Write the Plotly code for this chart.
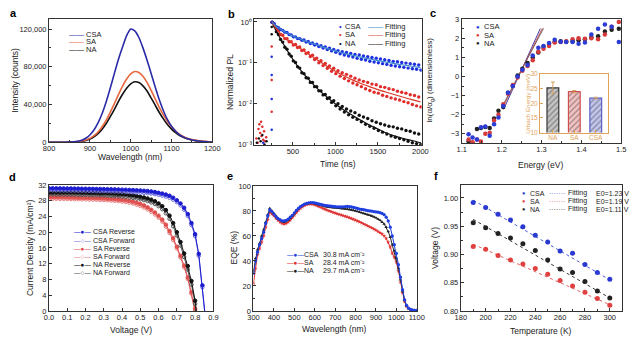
import plotly.graph_objects as go

# ---------------- data ----------------
# (a) steady-state PL
a_wl = [800, 820, 840, 860, 870, 880, 890, 900, 910, 920, 930, 940, 950, 960, 970, 980, 990, 1000,
        1010, 1020, 1030, 1040, 1050, 1060, 1070, 1080, 1090, 1100, 1110, 1120, 1130, 1140, 1150,
        1160, 1170, 1180, 1190, 1200]
a_csa = [0, 50, 150, 600, 1200, 2300, 4300, 7800, 13000, 20500, 30500, 43000, 57500, 73000, 88000,
         101000, 113000, 120000, 118000, 111000, 100000, 87000, 73000, 58500, 45000, 33500, 24000,
         17000, 11800, 8000, 5500, 3700, 2500, 1700, 1100, 700, 450, 300]
a_sa = [0, 50, 120, 400, 750, 1400, 2500, 4200, 7000, 11000, 16500, 23500, 32000, 41000, 50500,
        59500, 67000, 72500, 75000, 74000, 70000, 63500, 55000, 46000, 37000, 29000, 22000, 16500,
        12000, 8500, 6000, 4200, 3000, 2100, 1500, 1000, 700, 500]
a_na = [0, 40, 100, 330, 620, 1150, 2050, 3500, 5800, 9200, 13900, 19900, 27200, 35000, 43300,
        50900, 57300, 62000, 64100, 63300, 59800, 54300, 47000, 39300, 31600, 24800, 18800, 14000,
        10200, 7200, 5100, 3600, 2500, 1800, 1250, 850, 600, 400]

# (b) TRPL
b_t = [255, 280, 305, 330, 355, 380, 405, 430, 455, 480, 505, 530, 555, 580, 605, 630, 655, 680,
       705, 730, 755, 780, 805, 830, 855, 880, 905, 930, 955, 980, 1005, 1030, 1055, 1080, 1105,
       1130, 1155, 1180, 1205, 1230, 1255, 1280, 1305, 1330, 1355, 1380, 1405, 1430, 1455, 1480,
       1505, 1530, 1555, 1580, 1605, 1630, 1655, 1680, 1705, 1730, 1755, 1780, 1805, 1830, 1855,
       1880, 1905, 1930, 1955, 1980, 2005]
b_csa = [0.98, 0.90, 0.76, 0.72, 0.65, 0.62, 0.56, 0.55, 0.49, 0.48, 0.43, 0.43, 0.39, 0.39, 0.355,
         0.36, 0.32, 0.33, 0.295, 0.305, 0.27, 0.285, 0.25, 0.26, 0.23, 0.245, 0.21, 0.228, 0.195,
         0.212, 0.18, 0.198, 0.166, 0.186, 0.155, 0.178, 0.146, 0.168, 0.138, 0.16, 0.128, 0.155,
         0.122, 0.146, 0.117, 0.14, 0.109, 0.134, 0.104, 0.129, 0.1, 0.123, 0.095, 0.118, 0.091,
         0.113, 0.086, 0.108, 0.083, 0.106, 0.08, 0.101, 0.077, 0.098, 0.074, 0.095, 0.071, 0.092,
         0.069, 0.088, 0.066]
b_sa = [0.97, 0.84, 0.66, 0.61, 0.49, 0.47, 0.39, 0.385, 0.325, 0.325, 0.27, 0.28, 0.235, 0.243,
        0.2, 0.207, 0.168, 0.177, 0.142, 0.152, 0.12, 0.13, 0.1, 0.112, 0.085, 0.096, 0.073, 0.083,
        0.062, 0.073, 0.054, 0.064, 0.047, 0.057, 0.041, 0.052, 0.036, 0.047, 0.032, 0.042, 0.029,
        0.038, 0.026, 0.035, 0.023, 0.033, 0.021, 0.03, 0.019, 0.029, 0.018, 0.026, 0.016, 0.025,
        0.015, 0.023, 0.0138, 0.022, 0.013, 0.02, 0.0122, 0.019, 0.0112, 0.018, 0.0105, 0.0165,
        0.0095, 0.0158, 0.0088, 0.0145, 0.0083]
b_na = [0.98, 0.79, 0.57, 0.49, 0.37, 0.32, 0.24, 0.215, 0.163, 0.145, 0.111, 0.101, 0.08, 0.074,
        0.057, 0.054, 0.043, 0.042, 0.033, 0.033, 0.026, 0.026, 0.0205, 0.0205, 0.0163, 0.0167,
        0.0133, 0.014, 0.0107, 0.0117, 0.0088, 0.0099, 0.0074, 0.0085, 0.0062, 0.0074, 0.0053,
        0.0066, 0.0046, 0.006, 0.0041, 0.0052, 0.0036, 0.0047, 0.0031, 0.0043, 0.0028, 0.0038,
        0.0025, 0.0035, 0.0022, 0.0032, 0.002, 0.003, 0.0018, 0.0028, 0.0016, 0.0027, 0.0015,
        0.0025, 0.0014, 0.0024, 0.0013, 0.0022, 0.0012, 0.0021, 0.0011, 0.0019, 0.00105, 0.0018,
        0.001]
b_pre_csa_t = [150, 250, 250, 250, 250]
b_pre_csa = [0.0011, 0.14, 0.05, 0.013, 0.0023]
b_pre_sa_t = [70, 85, 95, 105, 115, 125, 130, 140, 150, 160, 170, 185, 250, 250, 250]
b_pre_sa = [0.0014, 0.0011, 0.0024, 0.0031, 0.0019, 0.0036, 0.0016, 0.0027, 0.0013, 0.0021,
            0.0012, 0.0015, 0.25, 0.038, 0.0063]
b_pre_na_t = [75, 100, 120, 140, 165, 190, 250, 250]
b_pre_na = [0.0011, 0.0014, 0.0012, 0.0017, 0.001, 0.0012, 0.5, 0.75]
b_fit_t = [255, 300, 350, 400, 450, 500, 600, 700, 800, 900, 1000, 1100, 1200, 1300, 1400, 1500,
           1600, 1700, 1800, 1900, 2000]
b_fit_csa = [1.0, 0.78, 0.67, 0.58, 0.51, 0.45, 0.37, 0.31, 0.265, 0.225, 0.195, 0.17, 0.152,
             0.137, 0.124, 0.113, 0.103, 0.095, 0.088, 0.082, 0.076]
b_fit_sa = [1.0, 0.7, 0.52, 0.41, 0.345, 0.29, 0.215, 0.155, 0.112, 0.082, 0.062, 0.048, 0.038,
            0.031, 0.026, 0.022, 0.019, 0.0165, 0.0143, 0.0125, 0.011]
b_fit_na = [1.0, 0.62, 0.4, 0.26, 0.175, 0.12, 0.062, 0.036, 0.022, 0.0145, 0.0098, 0.007, 0.0052,
            0.0039, 0.003, 0.0024, 0.0019, 0.0016, 0.0014, 0.00125, 0.0011]
b_ticktext = ["10⁻³", "10⁻²", "10⁻¹", "10⁰"]

# (c) Urbach
c_e = [1.117, 1.127, 1.138, 1.148, 1.159, 1.170, 1.181, 1.192, 1.204, 1.216, 1.228, 1.240, 1.252,
       1.265, 1.278, 1.292, 1.305, 1.319, 1.333, 1.348, 1.362, 1.378, 1.393, 1.409, 1.425, 1.442,
       1.459, 1.476, 1.494]
c_csa = [-3.02, -3.2, -3.3, -2.66, -2.62, -3.1, -2.5, -2.15, -1.55, -0.85, -0.5, 0.0, 0.35, 0.6,
         1.1, 1.5, 1.6, 1.75, 1.92, 1.82, 1.8, 1.8, 1.72, 1.78, 2.2, 2.5, 2.72, 2.6, 1.8]
c_sa = [-3.3, -3.45, -3.3, -3.4, -3.0, -2.95, -2.3, -2.0, -1.45, -0.9, -0.45, -0.05, 0.3, 0.55,
        0.85, 1.3, 1.45, 1.6, 1.78, 1.8, 1.85, 1.95, 2.0, 1.98, 2.0, 1.95, 2.2, 2.6, 2.85]
c_na = [-3.4, -3.5, -2.75, -2.7, -2.65, -2.7, -2.2, -1.8, -1.6, -0.85, -0.5, 0.05, 0.4, 0.7, 1.0,
        1.25, 1.55, 1.7, 1.8, 1.85, 1.82, 1.85, 1.9, 1.95, 2.05, 2.1, 2.35, 2.45, 2.5]
c_fit_e_csa = [1.205, 1.297]
c_fit_csa = [-1.72, 2.51]
c_fit_e_sa = [1.205, 1.302]
c_fit_sa = [-1.53, 2.52]
c_fit_e_na = [1.205, 1.305]
c_fit_na = [-1.43, 2.52]
c_inset_cat = ["NA", "SA", "CSA"]
c_inset_eu = [25.3, 24.0, 21.8]
c_inset_err = [2.0, 0.4, 0.3]

# (d) J-V
d_v = [0.00, 0.02, 0.04, 0.06, 0.08, 0.10, 0.12, 0.14, 0.16, 0.18, 0.20, 0.22, 0.24, 0.26, 0.28,
       0.30, 0.32, 0.34, 0.36, 0.38, 0.40, 0.42, 0.44, 0.46, 0.48, 0.50, 0.52, 0.54, 0.56, 0.58,
       0.60, 0.62, 0.64, 0.66, 0.68, 0.70, 0.72, 0.74, 0.76, 0.78, 0.80, 0.82, 0.84, 0.86, 0.88]
d_csa_rev = [31.15, 31.15, 31.14, 31.13, 31.12, 31.10, 31.10, 31.08, 31.07, 31.05, 31.04, 31.02,
             31.00, 30.98, 30.96, 30.94, 30.92, 30.90, 30.87, 30.84, 30.80, 30.77, 30.73, 30.69,
             30.64, 30.58, 30.52, 30.44, 30.35, 30.20, 30.00, 29.80, 29.55, 29.25, 28.75, 28.10,
             27.30, 26.20, 24.60, 22.30, 19.50, 14.50, 6.50, -2.5, -12.0]
d_csa_fwd = [30.65, 30.65, 30.64, 30.63, 30.62, 30.60, 30.59, 30.58, 30.56, 30.55, 30.53, 30.51,
             30.49, 30.47, 30.45, 30.43, 30.40, 30.38, 30.35, 30.32, 30.28, 30.24, 30.20, 30.15,
             30.10, 30.04, 29.97, 29.89, 29.80, 29.66, 29.48, 29.28, 29.03, 28.72, 28.25, 27.62,
             26.80, 25.70, 24.10, 21.80, 19.00, 14.00, 6.00, -3.0, -12.5]
d_sa_rev = [28.95, 28.94, 28.93, 28.92, 28.90, 28.88, 28.86, 28.84, 28.82, 28.80, 28.77, 28.74,
            28.71, 28.68, 28.64, 28.60, 28.55, 28.50, 28.44, 28.36, 28.26, 28.14, 27.98, 27.78,
            27.52, 27.20, 26.80, 26.30, 25.70, 25.00, 24.20, 23.20, 21.90, 20.30, 18.50, 16.30,
            14.00, 11.50, 8.50, 4.80, 0.60, -4.0, -10.0, -17.0, -25.0]
d_sa_fwd = [28.50, 28.49, 28.48, 28.47, 28.45, 28.43, 28.41, 28.39, 28.37, 28.35, 28.32, 28.29,
            28.26, 28.23, 28.19, 28.15, 28.10, 28.05, 27.98, 27.90, 27.80, 27.67, 27.50, 27.28,
            27.00, 26.67, 26.27, 25.78, 25.18, 24.50, 23.70, 22.70, 21.40, 19.80, 18.00, 15.90,
            13.60, 11.10, 8.10, 4.40, 0.20, -4.5, -10.5, -17.5, -25.5]
d_na_rev = [30.10, 30.10, 30.09, 30.08, 30.07, 30.06, 30.05, 30.04, 30.02, 30.00, 29.98, 29.96,
            29.94, 29.92, 29.90, 29.87, 29.84, 29.80, 29.76, 29.70, 29.64, 29.56, 29.46, 29.34,
            29.18, 29.00, 28.80, 28.55, 28.25, 27.85, 27.30, 26.60, 25.60, 24.20, 22.30, 20.00,
            17.50, 14.60, 11.40, 7.60, 2.60, -3.0, -10.0, -20.0, -30.0]
d_na_fwd = [29.55, 29.55, 29.54, 29.53, 29.52, 29.51, 29.50, 29.48, 29.46, 29.44, 29.42, 29.40,
            29.38, 29.35, 29.32, 29.29, 29.25, 29.21, 29.16, 29.10, 29.03, 28.94, 28.83, 28.70,
            28.55, 28.37, 28.15, 27.88, 27.55, 27.15, 26.60, 25.85, 24.80, 23.40, 21.50, 19.20,
            16.60, 13.70, 10.50, 6.70, 1.80, -4.0, -11.0, -21.0, -31.0]

# (e) EQE
e_wl = [300, 310, 320, 330, 340, 350, 360, 370, 380, 390, 400, 410, 420, 430, 440, 450, 460, 470,
        480, 490, 500, 510, 520, 530, 540, 550, 560, 570, 580, 590, 600, 610, 620, 630, 640, 650,
        660, 670, 680, 690, 700, 710, 720, 730, 740, 750, 760, 770, 780, 790, 800, 810, 820, 830,
        840, 850, 860, 870, 880, 890, 900, 910, 920, 930, 940, 950, 960, 970, 980, 990, 1000, 1010,
        1020, 1030, 1040, 1050, 1060, 1070, 1080, 1090, 1100]
e_csa = [30, 40, 47, 53, 58, 63, 70, 76, 81, 79.5, 77.5, 75.5, 74, 73, 72, 72, 72.5, 73.5, 75, 76.5,
         78.5, 80.5, 82, 83.5, 84.5, 85.5, 86, 86.5, 86.7, 86.7, 86.5, 86, 85.6, 85.2, 84.8, 84.5,
         84.2, 84, 83.8, 83.6, 83.5, 83.3, 83.2, 83.2, 83.3, 83.5, 83.6, 83.5, 83.2, 82.8, 82.5, 82,
         81.5, 81.2, 81, 80.6, 80.2, 80, 79.8, 79.5, 79.2, 79, 78.6, 78, 77, 75, 72, 67, 60, 53, 46,
         37, 27, 17, 9, 4.5, 2.2, 1.2, 0.7, 0.5, 0.4]
e_sa = [22, 34, 45, 50, 55, 60, 67, 73, 79, 77.5, 76, 74, 72.5, 71, 70, 69.5, 70, 71, 72.5, 74.5,
        76.5, 78.5, 80.5, 82, 83.3, 84.3, 85, 85.4, 85.5, 85.3, 84.8, 84.2, 83.5, 82.8, 82, 81.3,
        80.6, 80, 79.4, 78.8, 78.2, 77.7, 77.2, 76.7, 76.2, 75.7, 75.2, 74.6, 74, 73.3, 72.6, 71.9,
        71.2, 70.4, 69.6, 68.8, 68, 67.2, 66.4, 65.5, 64.6, 63.6, 62.5, 61.5, 60, 58, 55, 51, 46,
        43, 39, 32, 23, 14.5, 7.5, 3.5, 1.8, 1, 0.6, 0.4, 0.3]
e_na = [32, 42, 49, 54, 60, 65, 71, 77, 82, 80, 78, 76, 74, 72.5, 71.5, 71, 71.5, 72.5, 74, 76, 78,
        80, 82, 83.5, 84.5, 85.3, 85.8, 86, 86.2, 86.2, 86, 85.5, 85, 84.5, 84, 83.6, 83.2, 83,
        82.8, 82.6, 82.5, 82.3, 82.2, 82, 81.9, 81.7, 81.5, 81.2, 80.8, 80.4, 80, 79.5, 79, 78.5,
        78, 77.5, 77, 76.5, 76, 75.3, 74.5, 73.5, 72.5, 71, 69.5, 67, 63.5, 59, 53, 48, 42, 34, 25,
        16, 8.5, 4, 2, 1.1, 0.6, 0.4, 0.3]
e_jsc = ["30.8", "28.4", "29.7"]

# (f) Voc vs T
f_t = [190, 200, 210, 220, 230, 240, 250, 260, 270, 280, 290, 300]
f_csa = [0.992, 0.983, 0.971, 0.961, 0.949, 0.934, 0.922, 0.906, 0.902, 0.882, 0.868, 0.856]
f_sa = [0.914, 0.909, 0.898, 0.890, 0.883, 0.875, 0.865, 0.854, 0.844, 0.833, 0.822, 0.810]
f_na = [0.956, 0.947, 0.937, 0.929, 0.919, 0.907, 0.890, 0.874, 0.868, 0.852, 0.835, 0.823]
f_fit_t = [190, 300]
f_fit_csa = [0.996, 0.855]
f_fit_sa = [0.918, 0.811]
f_fit_na = [0.962, 0.823]
f_e0 = ["1.23", "1.19", "1.11"]

# ---------------- layout helpers ----------------
W, H = 639, 350
FONT = "Arial, Liberation Sans, sans-serif"


def X(p):
    return p / W


def Y(p):
    return 1 - p / H


def axis(dom, rng, anchor, xa=False, **kw):
    d = dict(domain=dom, range=rng, anchor=anchor, showline=True, linecolor="#333", linewidth=1,
             mirror=True, ticks="inside", ticklen=3, tickwidth=1, tickcolor="#333",
             showgrid=False, zeroline=False, tickfont=dict(size=7.5, color="#222", family=FONT))
    if xa:
        d["ticklabelstandoff"] = -1
    d.update(kw)
    return d


fig = go.Figure()


def sc(x, y, xa, ya, **kw):
    fig.add_trace(go.Scatter(x=x, y=y, xaxis=xa, yaxis=ya, showlegend=False, hoverinfo="skip", **kw))


# (a)
for yv, col in [(a_na, "#111111"), (a_sa, "#e8673f"), (a_csa, "#2b2ba8")]:
    sc(a_wl, yv, "x", "y", mode="lines", line=dict(color=col, width=1.6, shape="spline", smoothing=0.6))

# (b)
for t, yv, col in [(b_pre_sa_t, b_pre_sa, "#e02b2b"), (b_pre_na_t, b_pre_na, "#111111"),
                   (b_pre_csa_t, b_pre_csa, "#1f2fe0")]:
    sc(t, yv, "x2", "y2", mode="markers", marker=dict(color=col, size=2.5))
for yv, col in [(b_na, "#111111"), (b_sa, "#e02b2b"), (b_csa, "#1f2fe0")]:
    sc(b_t, yv, "x2", "y2", mode="markers", marker=dict(color=col, size=3.4))
for yv, col in [(b_fit_na, "#111111"), (b_fit_sa, "#d93a2b"), (b_fit_csa, "#3b8bc9")]:
    sc(b_fit_t, yv, "x2", "y2", mode="lines", line=dict(color=col, width=1.2, shape="spline", smoothing=0.8))

# (c)
for ex, yv, col in [(c_fit_e_csa, c_fit_csa, "#4b3fa8"), (c_fit_e_sa, c_fit_sa, "#c0504d"),
                    (c_fit_e_na, c_fit_na, "#7a5a5a")]:
    sc(ex, yv, "x3", "y3", mode="lines", line=dict(color=col, width=1))
for yv, col in [(c_na, "#222222"), (c_sa, "#d63a3a"), (c_csa, "#2a3bd6")]:
    sc(c_e, yv, "x3", "y3", mode="markers", marker=dict(color=col, size=4.5))
fig.add_trace(go.Bar(x=c_inset_cat, y=c_inset_eu, xaxis="x7", yaxis="y7", width=0.55, showlegend=False,
                     hoverinfo="skip",
                     error_y=dict(type="data", array=c_inset_err, color="#d4a060", thickness=1, width=2),
                     marker=dict(color=["#c4c4c4", "#f3c2c2", "#c3c6ee"],
                                 line=dict(color=["#333333", "#d05050", "#5a60c8"], width=1.2),
                                 pattern=dict(shape="/", size=4, solidity=0.3,
                                              bgcolor=["#c4c4c4", "#f3c2c2", "#c3c6ee"],
                                              fgcolor=["#7a7a7a", "#e07a7a", "#7d84d8"]))))

# (d)
d_series = [(d_sa_fwd, "#e87a7a", "circle-open"), (d_sa_rev, "#e0504f", "circle"),
            (d_na_fwd, "#555555", "circle-open"), (d_na_rev, "#111111", "circle"),
            (d_csa_fwd, "#6f6fe0", "circle-open"), (d_csa_rev, "#1c1cd0", "circle")]
for yv, col, sym in d_series:
    sc(d_v, yv, "x4", "y4", mode="lines+markers", line=dict(color=col, width=1),
       marker=dict(color=col, size=3.5, symbol=sym, line=dict(width=1, color=col)))

# (e)
for yv, col, sym in [(e_sa, "#e03030", "star"), (e_na, "#222222", "triangle-up"), (e_csa, "#1f3fe0", "circle")]:
    sc(e_wl, yv, "x5", "y5", mode="lines+markers", line=dict(color=col, width=1),
       marker=dict(color=col, size=3.2, symbol=sym))

# (f)
for yv, col in [(f_fit_csa, "#4a5ad8"), (f_fit_sa, "#e06060"), (f_fit_na, "#333333")]:
    sc(f_fit_t, yv, "x6", "y6", mode="lines", line=dict(color=col, width=1, dash="dot"))
for yv, col in [(f_csa, "#2a3ad0"), (f_sa, "#e04040"), (f_na, "#222222")]:
    sc(f_t, yv, "x6", "y6", mode="markers", marker=dict(color=col, size=5))

# ---------------- axes ----------------
MIN = dict(ticks="inside", ticklen=2, tickcolor="#333")
lay = dict(
    xaxis=axis([X(44), X(211)], [800, 1200], "y", True, tickvals=[800, 900, 1000, 1100, 1200],
               minor=dict(MIN, dtick=50)),
    yaxis=axis([Y(142), Y(15)], [0, 131000], "x", tickvals=[0, 40000, 80000, 120000],
               ticktext=["0", "40,000", "80,000", "120,000"], minor=dict(MIN, dtick=20000)),
    xaxis2=axis([X(254), X(425)], [47, 2015], "y2", True, tickvals=[500, 1000, 1500, 2000],
                minor=dict(MIN, dtick=250)),
    yaxis2=axis([Y(145), Y(15)], [-3.02, 0.08], "x2", type="log", tickvals=[0.001, 0.01, 0.1, 1],
                ticktext=b_ticktext),
    xaxis3=axis([X(466), X(629)], [1.1, 1.5], "y3", True, tickvals=[1.1, 1.2, 1.3, 1.4, 1.5],
                minor=dict(MIN, dtick=0.05)),
    yaxis3=axis([Y(143), Y(15)], [-3.5, 3.03], "x3", tickvals=[-3, -2, -1, 0, 1, 2, 3],
                minor=dict(MIN, dtick=0.5)),
    xaxis4=axis([X(44), X(212)], [0, 0.9], "y4", True,
                tickvals=[0, 0.1, 0.2, 0.3, 0.4, 0.5, 0.6, 0.7, 0.8, 0.9], tickformat=".1f"),
    yaxis4=axis([Y(315), Y(185.7)], [0, 32], "x4", tickvals=[0, 4, 8, 12, 16, 20, 24, 28, 32]),
    xaxis5=axis([X(253), X(420)], [300, 1100], "y5", True,
                tickvals=[300, 400, 500, 600, 700, 800, 900, 1000, 1100]),
    yaxis5=axis([Y(315), Y(186.7)], [0, 100], "x5", tickvals=[0, 20, 40, 60, 80, 100],
                minor=dict(MIN, dtick=10)),
    xaxis6=axis([X(465), X(630)], [180, 310], "y6", True, tickvals=[180, 200, 220, 240, 260, 280, 300],
                minor=dict(MIN, dtick=10)),
    yaxis6=axis([Y(315), Y(185.7)], [0.8, 1.023], "x6", tickvals=[0.80, 0.85, 0.90, 0.95, 1.00],
                tickformat=".2f", minor=dict(MIN, dtick=0.025)),
    xaxis7=axis([X(546), X(615)], [-0.6, 2.55], "y7", True, type="category", linecolor="#e0a35a",
                tickcolor="#e0a35a", tickvals=c_inset_cat,
                tickfont=dict(size=6.5, color="#e0a35a", family=FONT)),
    yaxis7=axis([Y(132), Y(72)], [10, 30], "x7", linecolor="#e0a35a", tickcolor="#e0a35a",
                tickvals=[10, 15, 20, 25, 30], tickfont=dict(size=6.5, color="#e0a35a", family=FONT)),
)

# ---------------- annotations ----------------
anns = []


def ann(x, y, text, size=8, xanchor="left", angle=0, color="#222", weight="normal"):
    anns.append(dict(x=X(x), y=Y(y), xref="paper", yref="paper", text=text, showarrow=False,
                     xanchor=xanchor, yanchor="middle", textangle=angle, borderpad=0,
                     font=dict(size=size, color=color, family=FONT, weight=weight)))


# panel letters
for (lx, ly, t) in [(8, 9, "a"), (231, 10, "b"), (437, 9, "c"), (7, 178, "d"), (229, 177, "e"), (440, 177, "f")]:
    ann(lx, ly, t, 11, "center", color="#000", weight="bold")

# axis titles
ann(127, 157.5, "Wavelength (nm)", 8.5, "center")
ann(9, 78, "Intensity (counts)", 8.5, "center", -90)
ann(339, 164.5, "Time (ns)", 8.5, "center")
ann(229, 80, "Normalized PL", 8.5, "center", -90)
ann(547, 165.5, "Energy (eV)", 8.5, "center")
ann(434, 78, "ln(α/α<sub>g</sub>) (dimensionless)", 8, "center", -90)
ann(533, 102, "Urbach Energy (meV)", 6.2, "center", -90, "#e0a35a")
ann(128, 334.5, "Voltage (V)", 8.5, "center")
ann(24, 250, "Current Density (mA/cm²)", 8.5, "center", -90)
ann(336, 334, "Wavelength (nm)", 8.5, "center")
ann(233, 250, "EQE (%)", 8.5, "center", -90)
ann(547, 335.5, "Temperature (K)", 8.5, "center")
ann(438, 250, "Voltage (V)", 8.5, "center", -90)

# legends: swatch glyph + label
for yy, col, name in [(31, "#2b2ba8", "CSA"), (38.6, "#e8673f", "SA"), (46.2, "#111111", "NA")]:
    ann(63, yy, "——", 7.5, color=col)
    ann(81, yy, name, 7.5)
for yy, col, fcol, name in [(22.7, "#1f2fe0", "#3b8bc9", "CSA"), (31.7, "#e02b2b", "#d93a2b", "SA"),
                            (40.7, "#111111", "#111111", "NA")]:
    ann(339, yy, "•", 7.5, color=col)
    ann(346, yy, name, 7.5)
    ann(369, yy, "——", 7.5, color=fcol)
    ann(386, yy, "Fitting", 7.5)
for yy, col, name in [(23.5, "#2a3bd6", "CSA"), (32, "#d63a3a", "SA"), (40.5, "#222222", "NA")]:
    ann(479, yy, "●", 6, color=col)
    ann(488, yy, name, 7.5)
for i, (col, sym, name) in enumerate([("#1c1cd0", "●", "CSA Reverse"), ("#6f6fe0", "○", "CSA Forward"),
                                      ("#e0504f", "●", "SA Reverse"), ("#e87a7a", "○", "SA Forward"),
                                      ("#111111", "●", "NA Reverse"), ("#555555", "○", "NA Forward")]):
    yy = 234 + 8.4 * i
    ann(69, yy, "—%s—" % sym, 6.5, color=col)
    ann(88, yy, name, 7)
for i, (col, name) in enumerate([("#1f3fe0", "CSA"), ("#e03030", "SA"), ("#222222", "NA")]):
    yy = 256.7 + 8.6 * i
    ann(286, yy, "—●—", 6.5, color=col)
    ann(304, yy, name, 7)
    ann(323, yy, "%s mA cm⁻²" % e_jsc[i], 7)
for i, (col, fcol, name) in enumerate([("#2a3ad0", "#4a5ad8", "CSA"), ("#e04040", "#e06060", "SA"),
                                       ("#222222", "#333333", "NA")]):
    yy = 194 + 8.4 * i
    ann(527, yy, "●", 5.5, color=col)
    ann(535, yy, name, 7)
    ann(554, yy, "·······", 7, color=fcol)
    ann(574, yy, "Fitting", 7)
    ann(602, yy, "E0=%s V" % f_e0[i], 7)

fig.update_layout(width=W, height=H, margin=dict(l=0, r=0, t=0, b=0), paper_bgcolor="white",
                  plot_bgcolor="white", showlegend=False, annotations=anns,
                  font=dict(family=FONT, size=8, color="#222"), bargap=0.4, **lay)

fig.write_html("out.html")
